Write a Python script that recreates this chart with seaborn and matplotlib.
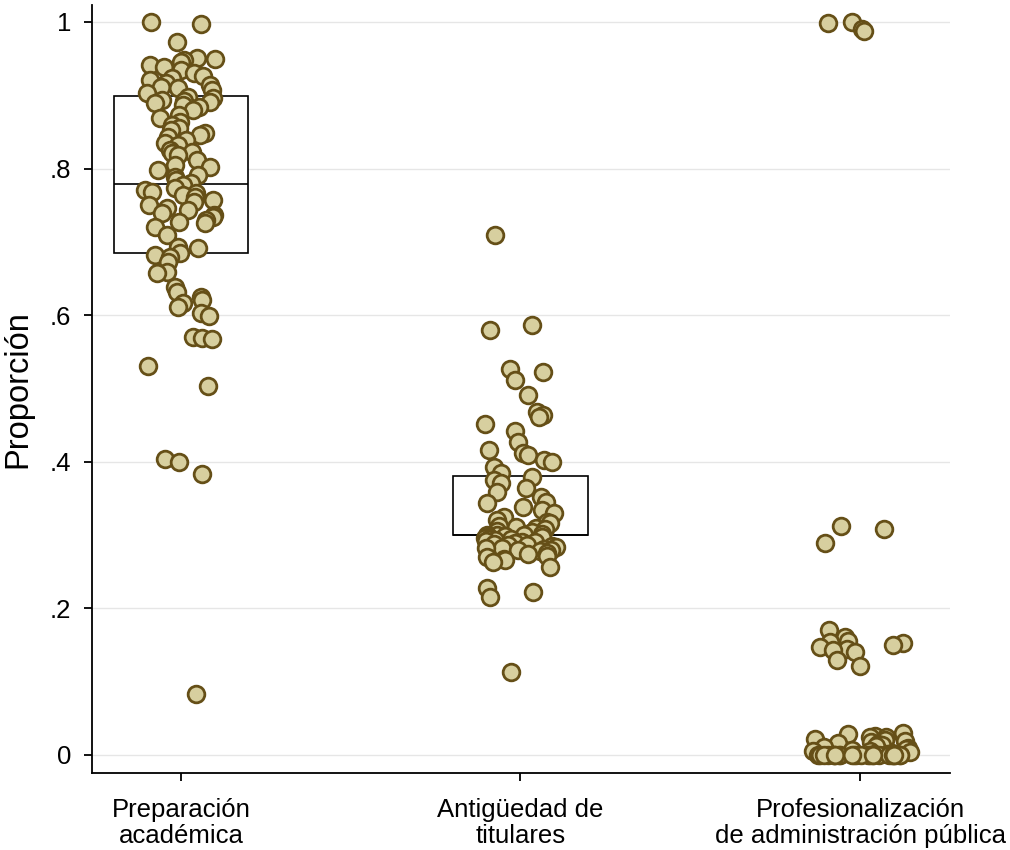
import numpy as np
import pandas as pd
import matplotlib
matplotlib.use("Agg")
import matplotlib.pyplot as plt
import seaborn as sns

categories = ["Preparación\nacadémica", "Antigüedad de\ntitulares",
              "Profesionalización\nde administración pública"]

prep_academica = [
    1.000, 0.997, 0.973, 0.951, 0.950, 0.948, 0.945, 0.941, 0.939, 0.935,
    0.930, 0.926, 0.924, 0.921, 0.917, 0.914, 0.911, 0.910, 0.907, 0.903,
    0.898, 0.896, 0.894, 0.892, 0.891, 0.889, 0.887, 0.884, 0.880, 0.873,
    0.869, 0.864, 0.859, 0.855, 0.853, 0.849, 0.846, 0.843, 0.839, 0.835,
    0.832, 0.825, 0.823, 0.821, 0.819, 0.812, 0.805, 0.802, 0.798, 0.791,
    0.789, 0.784, 0.780, 0.778, 0.774, 0.771, 0.768, 0.767, 0.764, 0.761,
    0.757, 0.754, 0.750, 0.746, 0.744, 0.739, 0.737, 0.734, 0.730, 0.727,
    0.726, 0.720, 0.709, 0.693, 0.692, 0.685, 0.682, 0.679, 0.673, 0.659,
    0.658, 0.638, 0.632, 0.625, 0.621, 0.617, 0.611, 0.603, 0.599, 0.570,
    0.569, 0.568, 0.531, 0.503, 0.404, 0.400, 0.383, 0.083,
]

antiguedad = [
    0.709, 0.587, 0.580, 0.527, 0.523, 0.512, 0.491, 0.468, 0.464, 0.461,
    0.452, 0.442, 0.427, 0.416, 0.412, 0.409, 0.402, 0.400, 0.393, 0.385,
    0.379, 0.375, 0.371, 0.364, 0.359, 0.352, 0.345, 0.344, 0.338, 0.334,
    0.330, 0.325, 0.320, 0.318, 0.316, 0.313, 0.311, 0.310, 0.308, 0.306,
    0.304, 0.302, 0.300, 0.300, 0.300, 0.299, 0.298, 0.297, 0.296, 0.295,
    0.294, 0.293, 0.292, 0.291, 0.290, 0.289, 0.288, 0.287, 0.286, 0.285,
    0.284, 0.283, 0.282, 0.281, 0.280, 0.279, 0.278, 0.276, 0.274, 0.272,
    0.270, 0.268, 0.266, 0.263, 0.256, 0.228, 0.222, 0.216, 0.113,
]

profesionalizacion = [
    1.000, 0.998, 0.990, 0.988, 0.312, 0.308, 0.289, 0.171, 0.161, 0.156,
    0.154, 0.153, 0.150, 0.147, 0.145, 0.143, 0.141, 0.130, 0.121,
    0.030, 0.028, 0.026, 0.025, 0.024, 0.022, 0.020, 0.019, 0.018, 0.016,
    0.015, 0.013, 0.012, 0.011, 0.010, 0.008, 0.007, 0.006, 0.005, 0.004,
    0.003, 0.002, 0.001,
    0.0, 0.0, 0.0, 0.0, 0.0, 0.0, 0.0, 0.0, 0.0, 0.0,
    0.0, 0.0, 0.0, 0.0, 0.0, 0.0, 0.0, 0.0, 0.0, 0.0,
    0.0, 0.0, 0.0, 0.0, 0.0,
]

# box statistics (q1, median, q3)
box_q1 = [0.685, 0.300]
box_med = [0.779, 0.300]
box_q3 = [0.899, 0.381]

y_ticks = [0, 0.2, 0.4, 0.6, 0.8, 1.0]
y_tick_labels = ["0", ".2", ".4", ".6", ".8", "1"]

sns.set_style("ticks")
plt.rcParams["font.family"] = ["Liberation Sans", "DejaVu Sans"]
plt.rcParams["text.color"] = "black"
plt.rcParams["axes.labelcolor"] = "black"
plt.rcParams["xtick.color"] = "black"
plt.rcParams["ytick.color"] = "black"

fig = plt.figure(figsize=(10.1, 8.5), dpi=100)
ax = fig.add_axes([92 / 1010, 77 / 850, (950 - 92) / 1010, (773 - 5) / 850])

series = [prep_academica, antiguedad, profesionalizacion]
jitters = [0.105, 0.105, 0.15]

# boxes
stats = []
for i in range(len(box_q1)):
    stats.append(dict(med=box_med[i], q1=box_q1[i], q3=box_q3[i],
                      whislo=box_q1[i], whishi=box_q3[i], fliers=[]))
ax.bxp(stats, positions=list(range(len(box_q1))), widths=0.395,
       showcaps=False, showfliers=False, patch_artist=True,
       boxprops=dict(facecolor="white", edgecolor="black", linewidth=1.2),
       medianprops=dict(color="black", linewidth=1.2),
       whiskerprops=dict(linewidth=0), manage_ticks=False, zorder=2)

np.random.seed(7)
for i, (cat, vals) in enumerate(zip(categories, series)):
    df = pd.DataFrame({"cat": [cat] * len(vals), "val": vals})
    sns.stripplot(data=df, x="cat", y="val", order=categories, ax=ax,
                  jitter=jitters[i], size=12.0, color="#D7CF9F",
                  edgecolor="#654F17", linewidth=2.0, zorder=3)

ax.set_xlim(-0.262, 2.265)
ax.set_ylim(-0.0246, 1.0231)
ax.set_yticks(y_ticks)
ax.set_yticklabels(y_tick_labels)
ax.set_xticks(range(len(categories)))
ax.set_xticklabels(categories, linespacing=1.08)
ax.grid(axis="y", color="#E6E6E6", linewidth=1.0, zorder=0)
ax.set_axisbelow(True)
for s in ["top", "right"]:
    ax.spines[s].set_visible(False)
for s in ["left", "bottom"]:
    ax.spines[s].set_color("black")
    ax.spines[s].set_linewidth(1.3)
ax.tick_params(axis="both", which="major", direction="out", length=6,
               width=1.3, color="black", labelsize=18.5, labelcolor="black")
ax.tick_params(axis="y", pad=9)
ax.tick_params(axis="x", pad=12)
ax.set_xlabel("")
ax.set_ylabel("Proporción", fontsize=23.5, labelpad=12, color="black")

fig.savefig("out.png", dpi=100, facecolor="white")
